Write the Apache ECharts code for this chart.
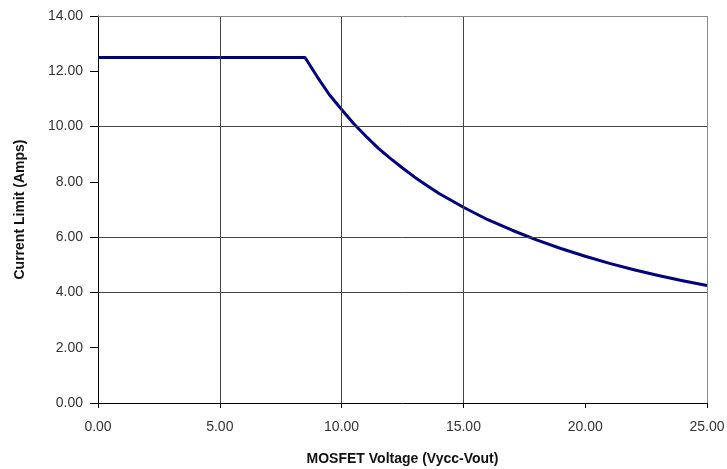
<!DOCTYPE html>
<html>
<head>
<meta charset="utf-8">
<script src="https://cdn.jsdelivr.net/npm/echarts@6/dist/echarts.min.js"></script>
<style>
  html, body { margin: 0; padding: 0; background: #fff; }
  #chart { width: 727px; height: 469px; }
</style>
</head>
<body>
<div id="chart"></div>
<script>
// values
const voltage = [0, 4, 8, 8.5, 9, 9.5, 10, 10.5, 11, 11.5, 12, 12.5, 13, 13.5, 14, 15, 16, 17, 18, 19, 20, 21, 22, 23, 24, 25];
const currentLimit = [12.5, 12.5, 12.5, 12.5, 11.8, 11.15, 10.62, 10.1, 9.65, 9.22, 8.85, 8.5, 8.17, 7.87, 7.58, 7.08, 6.63, 6.25, 5.9, 5.59, 5.31, 5.05, 4.82, 4.61, 4.42, 4.25];

// only these gridlines survive in the reference
const xGridLines = [5, 10, 15];
const yGridLines = [10, 6, 4];

const chart = echarts.init(document.getElementById('chart'));

const font = 'Liberation Sans, Arial, sans-serif';

const gridMarks = [];
xGridLines.forEach(v => gridMarks.push({ xAxis: v }));
yGridLines.forEach(v => gridMarks.push({ yAxis: v }));

const option = {
    animation: false,
    backgroundColor: '#fff',
    grid: { left: 98, right: 20, top: 16, bottom: 66, containLabel: false, outerBoundsMode: 'none' },
    xAxis: {
        type: 'value',
        min: 0, max: 25, interval: 5,
        name: 'MOSFET Voltage (Vycc-Vout)',
        nameLocation: 'middle',
        nameGap: 49,
        nameTextStyle: { fontFamily: font, fontSize: 14, fontWeight: 'bold', color: '#111' },
        axisLine: { show: true, lineStyle: { color: '#000', width: 1 } },
        axisTick: { show: true, length: 5, lineStyle: { color: '#000' } },
        axisLabel: {
            margin: 17,
            fontFamily: font, fontSize: 14, color: '#333',
            formatter: v => v.toFixed(2)
        },
        splitLine: { show: false }
    },
    yAxis: {
        type: 'value',
        min: 0, max: 14, interval: 2,
        name: 'Current Limit (Amps)',
        nameLocation: 'middle',
        nameGap: 71,
        nameTextStyle: { fontFamily: font, fontSize: 14, fontWeight: 'bold', color: '#111' },
        axisLine: { show: true, lineStyle: { color: '#000', width: 1 } },
        axisTick: { show: true, length: 8, lineStyle: { color: '#000' } },
        axisLabel: {
            margin: 15,
            fontFamily: font, fontSize: 14, color: '#333',
            formatter: v => v.toFixed(2)
        },
        splitLine: { show: false }
    },
    series: [
        {
            // gridlines and frame
            type: 'line',
            data: [],
            z: 1,
            silent: true,
            markLine: {
                silent: true,
                symbol: 'none',
                label: { show: false },
                lineStyle: { color: '#444', width: 1, type: 'solid' },
                data: gridMarks.concat([
                    { yAxis: 14, lineStyle: { color: '#888' } },
                    { xAxis: 25, lineStyle: { color: '#888' } }
                ])
            }
        },
        {
            name: 'Current Limit',
            type: 'line',
            z: 3,
            data: voltage.map((v, i) => [v, currentLimit[i]]),
            smooth: false,
            showSymbol: false,
            lineStyle: { color: '#000080', width: 3, join: 'round' }
        }
    ]
};

chart.setOption(option);
</script>
</body>
</html>
